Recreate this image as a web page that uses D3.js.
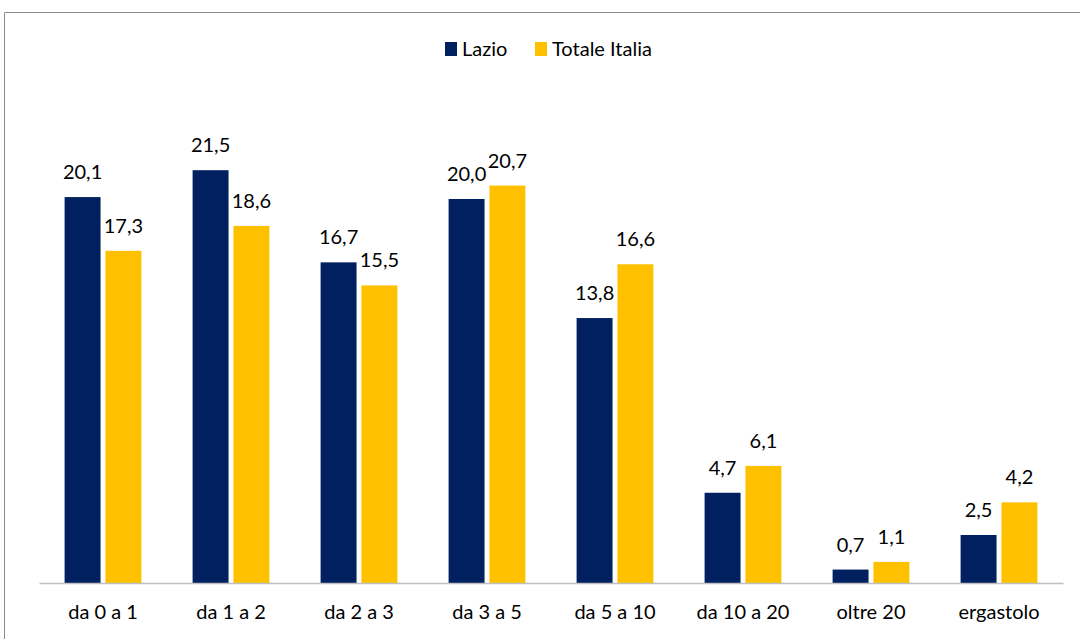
<!DOCTYPE html>
<html>
<head>
<meta charset="utf-8">
<script src="https://cdn.jsdelivr.net/npm/d3@7"></script>
<style>
  html, body { margin: 0; padding: 0; background: #fff; overflow: hidden; }
  svg { display: block; }
  text { font-family: Lato, "Open Sans", sans-serif; fill: #000; }
</style>
</head>
<body>
<svg id="chart"></svg>
<script>
const width = 1080;
const height = 639;

// data
const categories = ["da 0 a 1", "da 1 a 2", "da 2 a 3", "da 3 a 5", "da 5 a 10", "da 10 a 20", "oltre 20", "ergastolo"];
const seriesNames = ["Lazio", "Totale Italia"];
const lazio = [20.1, 21.5, 16.7, 20.0, 13.8, 4.7, 0.7, 2.5];
const italia = [17.3, 18.6, 15.5, 20.7, 16.6, 6.1, 1.1, 4.2];
const colors = ["#002060", "#FFC000"];
const fontSize = 20;

const svg = d3.select("#chart").attr("width", width).attr("height", height);

// outer chart border (right and bottom edges fall outside the picture)
svg.append("path")
  .attr("d", `M4.5,${height}V12.5H${width}`)
  .attr("fill", "none")
  .attr("stroke", "#8c8c8c");

const margin = { top: 103, right: 17, bottom: 56, left: 39 };
const innerWidth = width - margin.left - margin.right;
const innerHeight = height - margin.top - margin.bottom;

const g = svg.append("g").attr("transform", `translate(${margin.left},${margin.top})`);

const x0 = d3.scaleBand().domain(categories).range([0, innerWidth]).paddingInner(0.4).paddingOuter(0.2);
const x1 = d3.scaleBand().domain(seriesNames).range([0, x0.bandwidth()]).paddingInner(0.12);
const y = d3.scaleLinear().domain([0, 25]).range([innerHeight, 0]);

const rows = categories.map((c, i) => ({ cat: c, values: [lazio[i], italia[i]] }));

const groups = g.selectAll(".grp")
  .data(rows)
  .enter()
  .append("g")
  .attr("transform", d => `translate(${x0(d.cat)},0)`);

groups.selectAll("rect")
  .data(d => d.values.map((v, j) => ({ name: seriesNames[j], v, j })))
  .enter()
  .append("rect")
  .attr("x", d => x1(d.name))
  .attr("y", d => y(d.v))
  .attr("width", x1.bandwidth())
  .attr("height", d => innerHeight - y(d.v))
  .attr("fill", d => colors[d.j]);

// value labels above each bar
groups.selectAll(".val")
  .data(d => d.values.map((v, j) => ({ name: seriesNames[j], v, j })))
  .enter()
  .append("text")
  .attr("x", d => x1(d.name) + x1.bandwidth() / 2)
  .attr("y", d => y(d.v) - 18)
  .attr("text-anchor", "middle")
  .attr("font-size", fontSize)
  .text(d => d3.format(".1f")(d.v).replace(".", ","));

// x axis
const xAxisG = g.append("g")
  .attr("transform", `translate(0,${innerHeight})`)
  .call(d3.axisBottom(x0).tickSize(0).tickPadding(22));
xAxisG.select(".domain").attr("stroke", "#bfbfbf").attr("stroke-width", 1.5);
xAxisG.selectAll("text").attr("font-size", fontSize).attr("font-family", "Lato, sans-serif").attr("fill", "#000");

// legend
const legend = svg.append("g").attr("transform", "translate(445,42)");
const legendX = [0, 90];
seriesNames.forEach((name, i) => {
  const lg = legend.append("g").attr("transform", `translate(${legendX[i]},0)`);
  lg.append("rect").attr("width", 12).attr("height", 14).attr("fill", colors[i]);
  lg.append("text").attr("x", 17).attr("y", 14).attr("font-size", fontSize).text(name);
});
</script>
</body>
</html>
